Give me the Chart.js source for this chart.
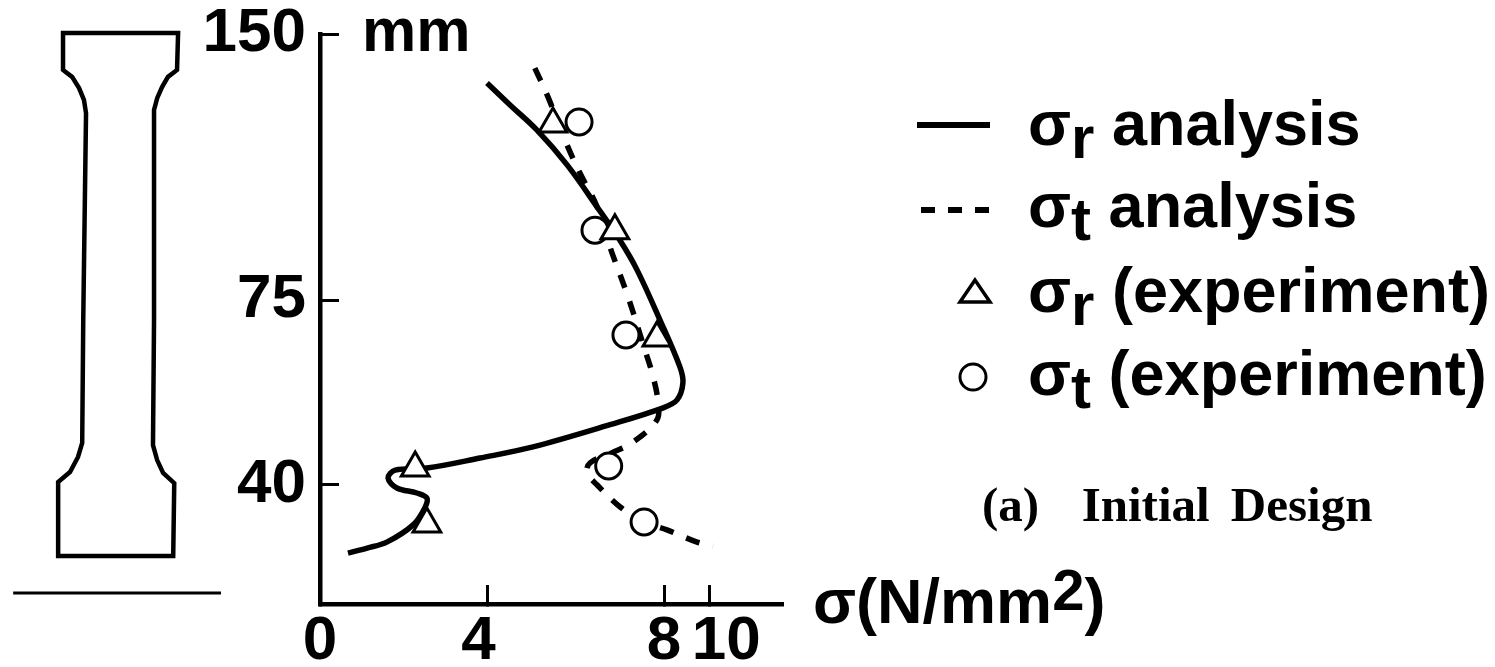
<!DOCTYPE html>
<html>
<head>
<meta charset="utf-8">
<title>Initial Design</title>
<script src="https://cdn.jsdelivr.net/npm/chart.js@4/dist/chart.umd.min.js"></script>
<style>
  html, body { margin: 0; padding: 0; background: #fff; }
  #wrap { position: relative; width: 1495px; height: 667px; overflow: hidden; }
  #myChart { position: absolute; left: 0; top: 0; }
  .t { position: absolute; white-space: pre; line-height: 1; color: #000;
       font-family: "Liberation Sans", Arial, sans-serif; font-weight: 700; }
  .leg { font-size: 63px; left: 1028px; }
  .leg sub { font-size: 60px; line-height: 0; vertical-align: -13px; }
  svg { position: absolute; overflow: visible; }
</style>
</head>
<body>
<div id="wrap">
  <canvas id="myChart" width="1495" height="667"></canvas>

  <span class="t" style="left:362px;top:0px;font-size:61px">mm</span>
  <span class="t" style="left:813px;top:570px;font-size:63px">σ(N/mm<sup style="font-size:58px;line-height:0;vertical-align:13px">2</sup>)</span>

  <svg style="left:0;top:0" width="1495" height="667">
    <line x1="917" y1="125" x2="990" y2="125" stroke="#000" stroke-width="6"/>
    <line x1="921" y1="210" x2="989" y2="210" stroke="#000" stroke-width="6" stroke-dasharray="14 13"/>
    <polygon points="975,280 960,302 990,302" fill="#fff" stroke="#000" stroke-width="3.5"/>
    <circle cx="973" cy="377" r="13" fill="#fff" stroke="#000" stroke-width="3"/>
  </svg>
  <span class="t leg" style="top:92px">σ<sub>r</sub> analysis</span>
  <span class="t leg" style="top:174px">σ<sub>t</sub> analysis</span>
  <span class="t leg" style="top:259px">σ<sub>r</sub> (experiment)</span>
  <span class="t leg" style="top:342px">σ<sub>t</sub> (experiment)</span>
  <span class="t" style="left:982px;top:480px;font-size:49px;word-spacing:9px;font-family:'Liberation Serif',serif">(a)  Initial Design</span>
</div>

<script>
// eje horizontal: tension en N/mm2, eje vertical: altura en mm
var xTicks = [0, 4, 8, 10];
var xTickLabels = ['0', '4\u00a0', '8', '\u00a0\u00a010'];
var yTicks = [40, 75, 150];
var yTickLabels = ['40', '75', '150'];

// sigma r, analisis (linea continua)
var srAnalysisX = [4.0, 4.52, 5.13, 5.81, 6.49, 7.0, 7.39, 7.91, 8.71, 8.84, 8.58, 7.98, 6.78, 5.04, 3.83, 2.56, 1.80, 1.63, 1.84, 2.32, 2.56, 2.51, 2.23, 1.60, 1.13, 0.67];
var srAnalysisY = [136.2, 130, 122.9, 113.1, 101.2, 91.9, 83.5, 71.2, 62.3, 59.3, 56.1, 54.6, 51.4, 47.2, 45.1, 43.2, 42.8, 41.3, 39.0, 37.3, 35.6, 32.3, 26.6, 20.8, 18.8, 17.1];

// sigma t, analisis (linea de trazos)
var stAnalysisX = [5.08, 5.38, 5.83, 6.10, 6.49, 6.78, 7.19, 7.57, 7.73, 7.86, 7.84, 7.30, 6.85, 6.33, 6.26, 6.49, 7.01, 7.53, 8.13, 9.47, 10.18];
var stAnalysisY = [140.4, 132.2, 118.1, 110.8, 101.2, 89.9, 75.8, 65.5, 61.2, 56.1, 52.3, 48.1, 46.2, 44.2, 42.3, 40, 32.6, 27.6, 24.9, 20.8, 19.5];

// puntos experimentales
var srExpX = [5.49, 6.89, 7.84, 2.28, 2.56];
var srExpY = [124.6, 94.5, 67.8, 43.2, 26.9];
var stExpX = [6.08, 6.44, 7.14, 6.75, 7.55];
var stExpY = [125.2, 94.7, 68.4, 43.6, 27.6];

// contorno de la probeta y linea de base (en mm de la probeta)
var specimenX = [-15.8, 17.2, 16.9, 14.3, 12.6, 11.2, 10.3, 10.3, 10.0, 11.2, 12.9, 16.1, 15.8, -17.2, -17.2, -13.8, -11.5, -10.3, -10, -9.2, -9.8, -11.2, -13.2, -15.8, -15.8];
var specimenY = [150, 150, 139.4, 137.4, 134.5, 131.3, 127.9, 67.7, 31.8, 27.5, 23.8, 20.9, 0, 0, 21.2, 24.1, 28.4, 32.4, 67.7, 127, 130.8, 134.2, 137.4, 139.4, 150];
var baseX = [-30.1, 29.5];
var baseY = [-10.6, -10.6];

function toPoints(xs, ys) {
    return xs.map(function(x, i) { return { x: x, y: ys[i] }; });
}

// Escala por tramos: las marcas del eje original no son uniformes
class PiecewiseScale extends Chart.LinearScale {
    getPixelForValue(value) {
        var stops = this.options.stops;
        for (var i = 1; i < stops.length; i++) {
            if (value <= stops[i][0] || i === stops.length - 1) {
                var a = stops[i - 1], b = stops[i];
                return this.getPixelForDecimal(a[1] + (value - a[0]) / (b[0] - a[0]) * (b[1] - a[1]));
            }
        }
    }
}
PiecewiseScale.id = 'piecewise';
PiecewiseScale.defaults = Chart.LinearScale.defaults;
Chart.register(PiecewiseScale);

var tickFont = { family: '"Liberation Sans", Arial, sans-serif', size: 62, weight: 'bold' };

var ctx = document.getElementById('myChart').getContext('2d');
var myChart = new Chart(ctx, {
    type: 'line',
    data: {
        datasets: [
            {
                label: 'σr (experiment)',
                data: toPoints(srExpX, srExpY),
                showLine: false,
                pointStyle: 'triangle',
                pointRadius: 16,
                pointBackgroundColor: '#fff',
                pointBorderColor: '#000',
                pointBorderWidth: 3,
                clip: false
            },
            {
                label: 'σt (experiment)',
                data: toPoints(stExpX, stExpY),
                showLine: false,
                pointStyle: 'circle',
                pointRadius: 13,
                pointBackgroundColor: '#fff',
                pointBorderColor: '#000',
                pointBorderWidth: 3,
                clip: false
            },
            {
                label: 'σr analysis',
                data: toPoints(srAnalysisX, srAnalysisY),
                borderColor: '#000',
                borderWidth: 5.5,
                pointRadius: 0,
                tension: 0.35,
                fill: false
            },
            {
                label: 'σt analysis',
                data: toPoints(stAnalysisX, stAnalysisY),
                borderColor: '#000',
                borderWidth: 5.5,
                borderDash: [14, 14],
                pointRadius: 0,
                tension: 0.35,
                fill: false
            },
            {
                label: 'specimen',
                data: toPoints(specimenX, specimenY),
                xAxisID: 'specX',
                yAxisID: 'specY',
                borderColor: '#000',
                borderWidth: 4.5,
                borderCapStyle: 'square',
                pointRadius: 0,
                tension: 0,
                clip: false
            },
            {
                label: 'base',
                data: toPoints(baseX, baseY),
                xAxisID: 'specX',
                yAxisID: 'specY',
                borderColor: '#000',
                borderWidth: 3,
                pointRadius: 0,
                clip: false
            }
        ]
    },
    options: {
        responsive: false,
        animation: false,
        events: [],
        layout: { padding: { top: 34, right: 713, left: 0, bottom: 0 } },
        plugins: { legend: { display: false }, tooltip: { enabled: false } },
        scales: {
            x: {
                type: 'piecewise',
                min: 0,
                max: 13.24,
                stops: [[0, 0], [4, 0.3615], [8, 0.7446], [10, 0.842], [13.24, 1]],
                afterBuildTicks: function(scale) {
                    scale.ticks = xTicks.map(function(v) { return { value: v }; });
                },
                afterFit: function(scale) {
                    scale.height = 63;
                    scale.paddingLeft = 0;
                    scale.paddingRight = 0;
                },
                grid: { drawOnChartArea: false, tickLength: -19, lineWidth: 3, tickColor: '#000' },
                border: { display: true, width: 4.5, color: '#000' },
                ticks: {
                    autoSkip: false,
                    maxRotation: 0,
                    minRotation: 0,
                    padding: 20,
                    color: '#000',
                    font: tickFont,
                    callback: function(value) { return xTickLabels[xTicks.indexOf(value)]; }
                }
            },
            y: {
                type: 'piecewise',
                min: 0,
                max: 150,
                stops: [[0, 0], [40, 0.2088], [75, 0.5333], [150, 1]],
                afterBuildTicks: function(scale) {
                    scale.ticks = yTicks.map(function(v) { return { value: v }; });
                },
                afterFit: function(scale) {
                    scale.width = 320;
                    scale.paddingTop = 0;
                    scale.paddingBottom = 0;
                },
                grid: { drawOnChartArea: false, tickLength: -19, lineWidth: 3, tickColor: '#000' },
                border: { display: true, width: 4.5, color: '#000' },
                ticks: {
                    autoSkip: false,
                    padding: 33,
                    color: '#000',
                    font: tickFont,
                    callback: function(value) { return yTickLabels[yTicks.indexOf(value)]; }
                }
            },
            // ejes ocultos para dibujar la probeta a la izquierda del grafico
            specX: { type: 'linear', display: false, min: 57.9, max: 190.4 },
            specY: { type: 'linear', display: false, min: -13.77, max: 149.7 }
        }
    }
});
</script>
</body>
</html>
